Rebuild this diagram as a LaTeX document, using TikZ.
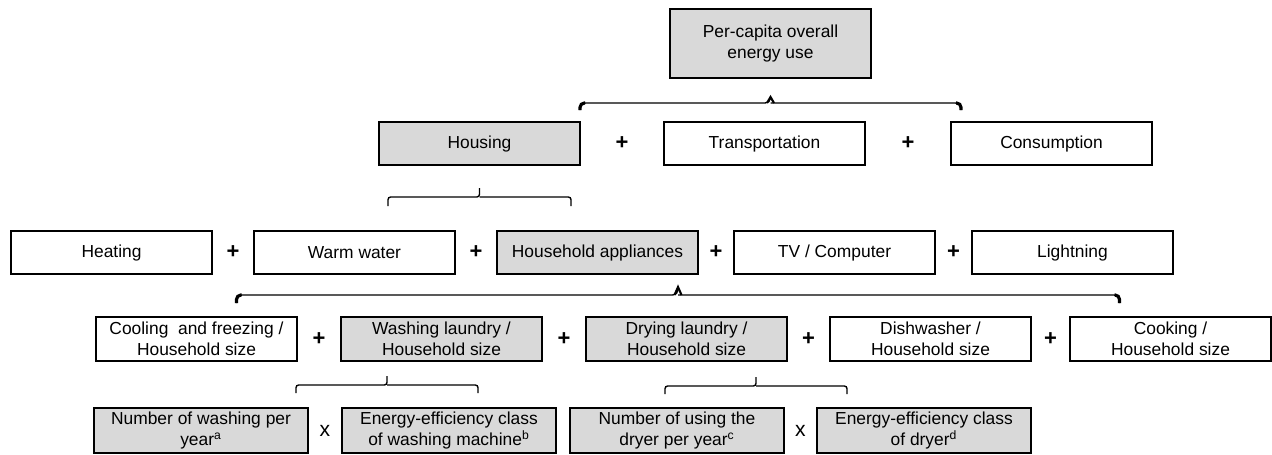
\documentclass[tikz,border=0pt]{standalone}
\usepackage{fontspec}
\setmainfont{Liberation Sans}
\usetikzlibrary{positioning,calc}
\definecolor{boxgray}{RGB}{217,217,217}

\begin{document}
\begin{tikzpicture}[auto, node distance=0cm,
    box/.style={draw, line width=0.8pt,
        minimum width=4.02cm,
        minimum height=0.86cm,
        inner sep=0pt, outer sep=0pt, align=center,
        font=\fontsize{9.9pt}{11.8pt}\selectfont},
    greybox/.style={box, fill=boxgray},
    op/.style={inner sep=0pt, outer sep=0pt, minimum height=0.86cm,
        font=\fontsize{12.5pt}{13pt}\selectfont\bfseries},
    times/.style={op, font=\fontsize{12pt}{13pt}\selectfont},
    bracket/.style={line width=0.8pt, rounded corners=1.5pt},
    bracehook/.style={line width=1.8pt, rounded corners=2.5pt}
]
    \useasboundingbox (0,0) rectangle (25.44,-9.08);

    % Top
    \node [greybox,
        minimum height=1.38cm
    ]  (Overall) at (15.41,-0.87) {Per-capita overall\\energy use};

    % Housing, transportation, consumption
    \node [greybox]  (Housing) at (9.59,-2.87) {Housing};
    \node [op, minimum width=1.68cm, right=0cm of Housing]  (PlusA) {+};
    \node [box, right=0cm of PlusA]  (Transport) {Transportation};
    \node [op, minimum width=1.72cm, right=0cm of Transport]  (PlusB) {+};
    \node [box, right=0cm of PlusB]  (Consumption) {Consumption};

    % Housing parts
    \node [box]  (Heating) at (2.23,-5.05) {Heating};
    \node [op, minimum width=0.84cm, right=0cm of Heating]  (PlusC) {+};
    \node [box, right=0cm of PlusC]  (WarmWater) {Warm water};
    \node [op, minimum width=0.84cm, right=0cm of WarmWater]  (PlusD) {+};
    \node [greybox, right=0cm of PlusD]  (Appliances) {Household appliances};
    \node [op, minimum width=0.72cm, right=0cm of Appliances]  (PlusE) {+};
    \node [box, right=0cm of PlusE]  (Computer) {TV / Computer};
    \node [op, minimum width=0.74cm, right=0cm of Computer]  (PlusF) {+};
    \node [box, right=0cm of PlusF]  (Lightning) {Lightning};

    % Appliances per household size
    \node [box,
        minimum height=0.88cm
    ]  (Cooling) at (3.93,-6.78) {Cooling\ \ and freezing /\\Household size};
    \node [op, minimum width=0.88cm, right=0cm of Cooling]  (PlusG) {+};
    \node [greybox,
        minimum height=0.88cm,
        right=0cm of PlusG
    ]  (Washing) {Washing laundry /\\Household size};
    \node [op, minimum width=0.88cm, right=0cm of Washing]  (PlusH) {+};
    \node [greybox,
        minimum height=0.88cm,
        right=0cm of PlusH
    ]  (Drying) {Drying laundry /\\Household size};
    \node [op, minimum width=0.86cm, right=0cm of Drying]  (PlusI) {+};
    \node [box,
        minimum height=0.88cm,
        right=0cm of PlusI
    ]  (Dishwasher) {Dishwasher /\\Household size};
    \node [op, minimum width=0.78cm, right=0cm of Dishwasher]  (PlusJ) {+};
    \node [box,
        minimum height=0.88cm,
        right=0cm of PlusJ
    ]  (Cooking) {Cooking /\\Household size};

    % Washing and drying factors
    \node [greybox,
        minimum width=4.28cm,
        minimum height=0.9cm
    ]  (WashNumber) at (4.02,-8.61) {Number of washing per\\year\textsuperscript{a}};
    \node [times, minimum width=0.68cm, right=0cm of WashNumber]  (TimesA) {x};
    \node [greybox,
        minimum width=4.28cm,
        minimum height=0.9cm,
        right=0cm of TimesA
    ]  (WashClass) {Energy-efficiency class\\of washing machine\textsuperscript{b}};
    \node [greybox,
        minimum width=4.28cm,
        minimum height=0.9cm,
        right=0.28cm of WashClass
    ]  (DryNumber) {Number of using the\\dryer per year\textsuperscript{c}};
    \node [times, minimum width=0.66cm, right=0cm of DryNumber]  (TimesB) {x};
    \node [greybox,
        minimum width=4.28cm,
        minimum height=0.9cm,
        right=0cm of TimesB
    ]  (DryClass) {Energy-efficiency class\\of dryer\textsuperscript{d}};

    % Brackets
    \coordinate (OverallTip) at ($(Overall.south)+(0,-0.5)$);
    \draw[bracket, rounded corners=3pt] ($(OverallTip)+(-3.81,-0.14)$) |- (OverallTip) -- ++(0,0.12);
    \draw[bracket, rounded corners=3pt] (OverallTip) -| ($(OverallTip)+(3.81,-0.14)$);
    \draw[bracehook] ($(OverallTip)+(-3.81,-0.14)$) |- ++(0.1,0.14);
    \draw[bracehook] ($(OverallTip)+(3.81,-0.14)$) |- ++(-0.1,0.14);
    \draw[line width=1.2pt] ($(OverallTip)+(-0.07,0)$) -- ++(0.07,0.12) -- ++(0.07,-0.12);

    \coordinate (HousingTip) at ($(Housing.south)+(0,-0.64)$);
    \draw[bracket] ($(HousingTip)+(-1.83,-0.18)$) |- (HousingTip) -- ++(0,0.18);
    \draw[bracket] (HousingTip) -| ($(HousingTip)+(1.83,-0.18)$);

    \coordinate (AppliancesTip) at ($(Appliances.south)+(1.61,-0.42)$);
    \draw[bracket, rounded corners=3pt] ($(AppliancesTip)+(-8.83,-0.16)$) |- (AppliancesTip) -- ++(0,0.16);
    \draw[bracket, rounded corners=3pt] (AppliancesTip) -| ($(AppliancesTip)+(8.83,-0.16)$);
    \draw[bracehook] ($(AppliancesTip)+(-8.83,-0.16)$) |- ++(0.1,0.16);
    \draw[bracehook] ($(AppliancesTip)+(8.83,-0.16)$) |- ++(-0.1,0.16);
    \draw[line width=1.2pt] ($(AppliancesTip)+(-0.07,0)$) -- ++(0.07,0.16) -- ++(0.07,-0.16);

    \coordinate (WashingTip) at ($(Washing.south)+(-1.09,-0.48)$);
    \draw[bracket] ($(WashingTip)+(-1.82,-0.16)$) |- (WashingTip) -- ++(0,0.18);
    \draw[bracket] (WashingTip) -| ($(WashingTip)+(1.82,-0.16)$);

    \coordinate (DryingTip) at ($(Drying.south)+(1.39,-0.5)$);
    \draw[bracket] ($(DryingTip)+(-1.82,-0.16)$) |- (DryingTip) -- ++(0,0.18);
    \draw[bracket] (DryingTip) -| ($(DryingTip)+(1.82,-0.16)$);
\end{tikzpicture}
\end{document}
